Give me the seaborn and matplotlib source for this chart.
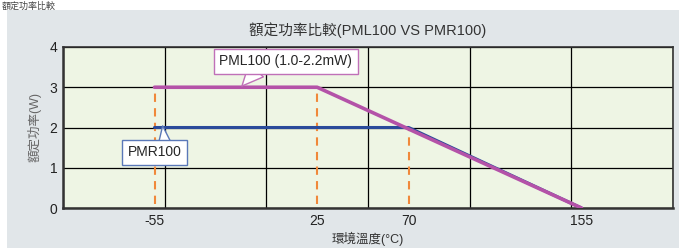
import pandas as pd
import matplotlib.pyplot as plt
import matplotlib.ticker as mticker
import seaborn as sns

# derating curves
pml_temp = [-55, 25, 155]
pml_power = [3, 3, 0]
pmr_temp = [-55, 70, 155]
pmr_power = [2, 2, 0]

# dashed guide lines
guide_temp = [-55, 25, 70]
guide_top = [3, 3, 2]

xtick_vals = [-55, 25, 70, 155]
ytick_vals = [0, 1, 2, 3, 4]

sns.set_style("white")
plt.rcParams['font.family'] = ['Liberation Sans', 'Noto Sans CJK TC', 'DejaVu Sans']
plt.rcParams['axes.unicode_minus'] = False

fig = plt.figure(figsize=(6.79, 2.48), dpi=100)
fig.patch.set_facecolor('white')

# grey panel behind the chart
bg = fig.add_axes([7 / 679, 0, 672 / 679, 1 - 10 / 248], zorder=0)
bg.set_facecolor('#e1e6e9')
bg.set_xticks([])
bg.set_yticks([])
for s in bg.spines.values():
    s.set_visible(False)

fig.text(0.003, 0.995, '額定功率比較', fontsize=6.5, color='#444444', va='top')

ax = fig.add_axes([63 / 679, 1 - 208 / 248, 610 / 679, 161 / 248], zorder=1)
ax.set_facecolor('#eef5e4')

df_pml = pd.DataFrame({'temp': pml_temp, 'power': pml_power})
df_pmr = pd.DataFrame({'temp': pmr_temp, 'power': pmr_power})

for t, top in zip(guide_temp, guide_top):
    ax.plot([t, t], [0.1, top], color='#f0883a', lw=1.5, ls=(0, (4, 3)), zorder=2)

sns.lineplot(data=df_pmr, x='temp', y='power', color='#2a4a9a', lw=2.2, ax=ax, zorder=3)
sns.lineplot(data=df_pml, x='temp', y='power', color='#b452a8', lw=2.6, ax=ax, zorder=4)

ax.set_xlim(-100, 200)
ax.set_ylim(0, 4)
ax.set_xticks(xtick_vals)
ax.xaxis.set_minor_locator(mticker.MultipleLocator(50))
ax.set_yticks(ytick_vals)
ax.grid(False)
ax.grid(which='minor', axis='x', color='black', lw=0.9, zorder=1)
ax.grid(which='major', axis='y', color='black', lw=0.9, zorder=1)
ax.set_axisbelow(True)
ax.tick_params(which='both', length=0, labelsize=10, colors='#222222', pad=4)
for s in ax.spines.values():
    s.set_color('#333333')
    s.set_linewidth(1.2)
ax.spines['left'].set_linewidth(1.8)
ax.spines['bottom'].set_linewidth(1.8)

ax.set_title('額定功率比較(PML100 VS PMR100)', fontsize=10.5, color='#333333', pad=9)
ax.set_xlabel('環境溫度(°C)', fontsize=9, color='#333333', labelpad=3)
ax.set_ylabel('額定功率(W)', fontsize=9, color='#666666', labelpad=6)

# callout boxes
ax.text(9.5, 3.64, 'PML100 (1.0-2.2mW)', fontsize=10, ha='center', va='center', zorder=6,
        bbox=dict(boxstyle='square,pad=0.4', fc='white', ec='#c070b8', lw=1))
ax.text(-55, 1.38, 'PMR100', fontsize=10, ha='center', va='center', zorder=6,
        bbox=dict(boxstyle='square,pad=0.4', fc='white', ec='#5a78b8', lw=1))
# callout pointers, drawn under the boxes so the text stays clear
ax.annotate('', xy=(-12, 3.03), xytext=(-5, 3.42), zorder=5,
            arrowprops=dict(arrowstyle='wedge,tail_width=1.4,shrink_factor=0.5', fc='white',
                            ec='#c070b8', lw=1, shrinkA=0, shrinkB=0, mutation_scale=10))
ax.annotate('', xy=(-51, 2.04), xytext=(-50, 1.62), zorder=5,
            arrowprops=dict(arrowstyle='wedge,tail_width=0.9,shrink_factor=0.5', fc='white',
                            ec='#5a78b8', lw=1, shrinkA=0, shrinkB=0, mutation_scale=10))

fig.savefig('out.png', dpi=100)
